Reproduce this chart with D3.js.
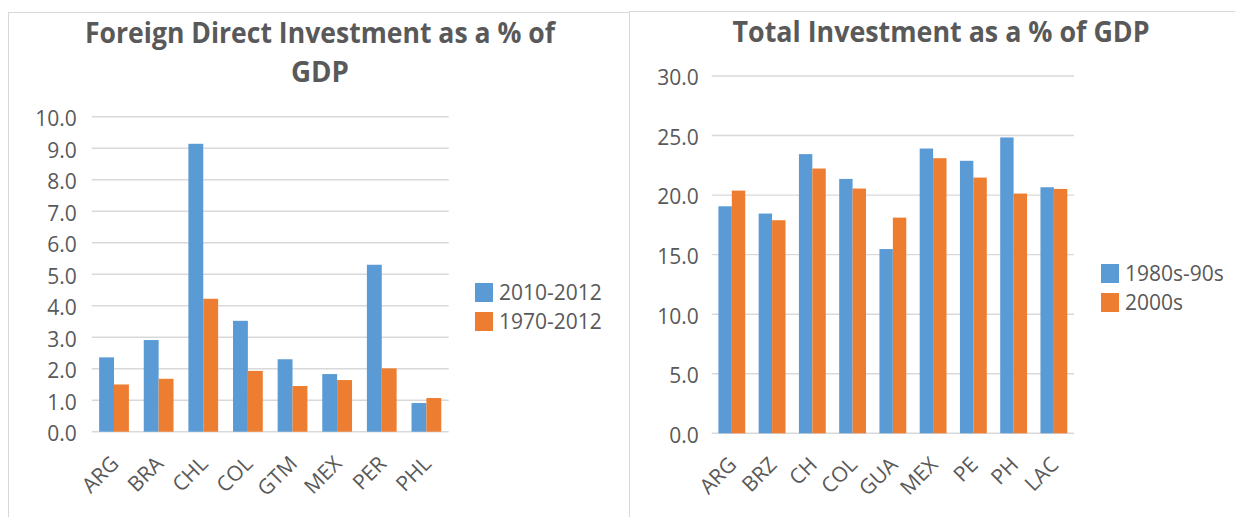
<!DOCTYPE html>
<html>
<head>
<meta charset="utf-8">
<script src="https://cdn.jsdelivr.net/npm/d3@7"></script>
<style>
  body { margin: 0; background: #fff; }
  text { font-family: "Open Sans", sans-serif; fill: #595959; }
</style>
</head>
<body>
<svg id="chart" width="1235" height="517"></svg>
<script>
// left chart data
const fdiCountries = ["ARG", "BRA", "CHL", "COL", "GTM", "MEX", "PER", "PHL"];
const fdiSeriesNames = ["2010-2012", "1970-2012"];
const fdiRecent = [2.36, 2.91, 9.14, 3.52, 2.30, 1.83, 5.30, 0.91];
const fdiLong = [1.50, 1.68, 4.22, 1.93, 1.45, 1.64, 2.01, 1.07];
const fdiTicks = [0, 1, 2, 3, 4, 5, 6, 7, 8, 9, 10];

// right chart data
const totCountries = ["ARG", "BRZ", "CH", "COL", "GUA", "MEX", "PE", "PH", "LAC"];
const totSeriesNames = ["1980s-90s", "2000s"];
const tot8090 = [19.06, 18.45, 23.44, 21.36, 15.47, 23.91, 22.88, 24.84, 20.66];
const tot2000 = [20.38, 17.89, 22.23, 20.55, 18.11, 23.10, 21.47, 20.13, 20.52];
const totTicks = [0, 5, 10, 15, 20, 25, 30];

const colors = ["#5B9BD5", "#ED7D31"];
const svg = d3.select("#chart");

// panel frames
svg.append("rect").attr("x", 8.5).attr("y", 12.5).attr("width", 640).attr("height", 540)
    .attr("fill", "#fff").attr("stroke", "#d9d9d9");
svg.append("rect").attr("x", 629.5).attr("y", 11.5).attr("width", 640).attr("height", 540)
    .attr("fill", "#fff").attr("stroke", "#d9d9d9");

function drawChart(opt) {
    const g = svg.append("g");
    const x0 = d3.scaleBand().domain(opt.cats).range(opt.xr).paddingInner(1 / 3).paddingOuter(1 / 6);
    const x1 = d3.scaleBand().domain([0, 1]).range([0, x0.bandwidth()]);
    const y = d3.scaleLinear().domain([0, opt.max]).range(opt.yr);

    // gridlines
    g.selectAll(".grid").data(opt.ticks).enter().append("line")
        .attr("x1", opt.xr[0]).attr("x2", opt.xr[1])
        .attr("y1", d => y(d)).attr("y2", d => y(d))
        .attr("stroke", "#d9d9d9").attr("stroke-width", 1.4);

    // y axis labels
    const yAxis = g.append("g").attr("transform", "translate(" + opt.xr[0] + ",0)")
        .call(d3.axisLeft(y).tickValues(opt.ticks).tickFormat(d3.format(".1f")).tickSize(0).tickPadding(opt.yPad));
    yAxis.select(".domain").remove();
    yAxis.selectAll("text").attr("font-size", 21).attr("font-family", null).attr("fill", "#595959").attr("dy", "0.42em");

    // bars
    const rows = opt.cats.map((c, i) => ({ cat: c, vals: [opt.s0[i], opt.s1[i]] }));
    g.selectAll(".grp").data(rows).enter().append("g")
        .attr("transform", d => "translate(" + x0(d.cat) + ",0)")
        .selectAll("rect").data(d => d.vals).enter().append("rect")
        .attr("x", (d, i) => x1(i))
        .attr("width", x1.bandwidth())
        .attr("y", d => y(d))
        .attr("height", d => y(0) - y(d))
        .attr("fill", (d, i) => colors[i]);

    // x labels
    g.selectAll(".xl").data(opt.cats).enter().append("text")
        .attr("transform", d => "translate(" + (x0(d) + x0.bandwidth() / 2 + 6) + "," + opt.labelY + ") rotate(-45)")
        .attr("text-anchor", "end")
        .attr("font-size", 21)
        .text(d => d);

    // title
    opt.title.forEach((t, i) => {
        g.append("text").attr("x", opt.titleX).attr("y", opt.titleY + i * 39)
            .attr("text-anchor", "middle").attr("font-size", 28).attr("font-weight", "bold")
            .attr("textLength", opt.titleW[i]).attr("lengthAdjust", "spacingAndGlyphs")
            .text(t);
    });

    // legend
    opt.names.forEach((n, i) => {
        g.append("rect").attr("x", opt.legX).attr("y", opt.legY + i * 29)
            .attr("width", 18).attr("height", 19).attr("fill", colors[i]);
        g.append("text").attr("x", opt.legX + 24).attr("y", opt.legY + i * 29 + 17)
            .attr("font-size", 21).text(n);
    });
}

drawChart({
    cats: fdiCountries, s0: fdiRecent, s1: fdiLong, names: fdiSeriesNames,
    ticks: fdiTicks, max: 10, xr: [91.7, 448.7], yr: [431.7, 116.7], yPad: 15,
    labelY: 465, title: ["Foreign Direct Investment as a % of", "GDP"], titleW: [470, 58],
    titleX: 320, titleY: 43, legX: 475, legY: 283
});

drawChart({
    cats: totCountries, s0: tot8090, s1: tot2000, names: totSeriesNames,
    ticks: totTicks, max: 30, xr: [711.7, 1074], yr: [433.3, 76], yPad: 13,
    labelY: 466, title: ["Total Investment as a % of GDP"], titleW: [417],
    titleX: 941, titleY: 42, legX: 1101, legY: 264
});
</script>
</body>
</html>
